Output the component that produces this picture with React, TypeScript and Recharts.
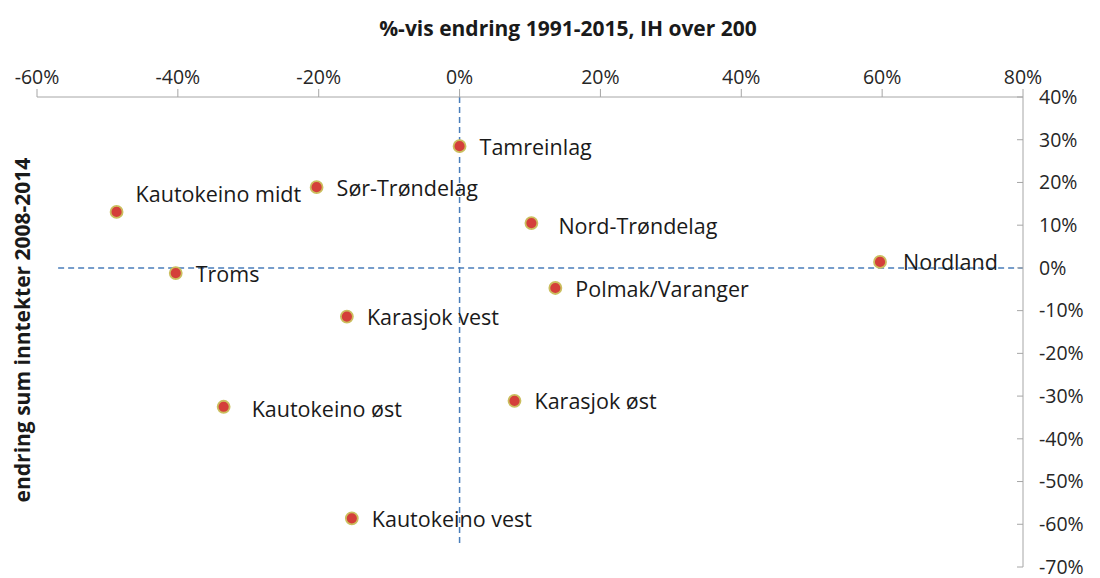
import { ScatterChart, Scatter, XAxis, YAxis, ReferenceLine } from "recharts";

// Reindriftsområder: endring 1991-2015 (IH over 200) mot endring sum inntekter 2008-2014
const areas = [
  "Tamreinlag",
  "Sør-Trøndelag",
  "Kautokeino midt",
  "Nord-Trøndelag",
  "Nordland",
  "Troms",
  "Polmak/Varanger",
  "Karasjok vest",
  "Kautokeino øst",
  "Karasjok øst",
  "Kautokeino vest",
];
const changeIH = [0, -20.3, -48.7, 10.2, 59.7, -40.3, 13.6, -16, -33.5, 7.8, -15.3];
const changeIncome = [28.5, 18.9, 13.1, 10.5, 1.4, -1.2, -4.7, -11.4, -32.5, -31.1, -58.6];

const xTicks = [-60, -40, -20, 0, 20, 40, 60, 80];
const yTicks = [40, 30, 20, 10, 0, -10, -20, -30, -40, -50, -60, -70];

// small label nudges (px) where the original labels sit off-centre
const labelNudge: Record<string, { dx: number; dy: number }> = {
  "Kautokeino midt": { dx: 19, dy: -17 },
  "Nord-Trøndelag": { dx: 27, dy: 3 },
  "Kautokeino øst": { dx: 28, dy: 3 },
  Nordland: { dx: 23, dy: 1 },
};

const data = areas.map((name, i) => ({ name, x: changeIH[i], y: changeIncome[i] }));

const FONT = "'Open Sans', sans-serif";
const AXIS = "#A6A6A6";
const DASH = "#4A7EBB";

const pct = (v: number) => `${v}%`;

const Dot = (props: any) => {
  const { cx, cy, payload } = props;
  const n = labelNudge[payload.name] || { dx: 20, dy: 1 };
  return (
    <g>
      <circle cx={cx} cy={cy} r={6} fill="#D43F3A" stroke="#CBBE5E" strokeWidth={1.8} />
      <text
        x={cx + n.dx}
        y={cy + n.dy}
        dy="0.35em"
        fontFamily={FONT}
        fontSize={21.5}
        fill="#1A1A1A"
      >
        {payload.name}
      </text>
    </g>
  );
};

const RightTick = (props: any) => {
  const { x, y, payload } = props;
  const axisX = x - 16;
  return (
    <g>
      <line x1={axisX - 6} x2={axisX} y1={y} y2={y} stroke={AXIS} />
      <text x={x} y={y} dy="0.35em" fontFamily={FONT} fontSize={19.5} fill="#262626">
        {pct(payload.value)}
      </text>
    </g>
  );
};

export default function App() {
  return (
    <div style={{ position: "relative", width: 1100, height: 578, background: "#fff" }}>
      <style>{`body{margin:0}`}</style>
      <div
        style={{
          position: "absolute",
          left: 568,
          top: 28,
          transform: "translate(-50%, -50%)",
          fontFamily: FONT,
          fontWeight: 700,
          fontSize: 21,
          color: "#1A1A1A",
          whiteSpace: "nowrap",
        }}
      >
        %-vis endring 1991-2015, IH over 200
      </div>
      <div
        style={{
          position: "absolute",
          left: 22,
          top: 330,
          transform: "translate(-50%, -50%) rotate(-90deg)",
          fontFamily: FONT,
          fontWeight: 700,
          fontSize: 21,
          color: "#1A1A1A",
          whiteSpace: "nowrap",
        }}
      >
        endring sum inntekter 2008-2014
      </div>
      <ScatterChart
        width={1100}
        height={578}
        margin={{ top: 57, right: 0, bottom: 11, left: 37 }}
      >
        <XAxis
          type="number"
          dataKey="x"
          orientation="top"
          domain={[-60, 80]}
          ticks={xTicks}
          tickFormatter={pct}
          height={40}
          stroke={AXIS}
          tickSize={8}
          tickMargin={5}
          tick={{ fill: "#262626", fontSize: 19.5, fontFamily: FONT }}
          allowDataOverflow
        />
        <YAxis
          type="number"
          dataKey="y"
          orientation="right"
          domain={[-70, 40]}
          ticks={yTicks}
          width={77}
          stroke={AXIS}
          tickLine={false}
          tickSize={0}
          tickMargin={16}
          tick={<RightTick />}
          allowDataOverflow
        />
        <Scatter data={data} shape={<Dot />} isAnimationActive={false} />
        <ReferenceLine
          segment={[
            { x: -57, y: 0 },
            { x: 80, y: 0 },
          ]}
          stroke={DASH}
          strokeWidth={1.5}
          strokeDasharray="6 4"
        />
        <ReferenceLine
          segment={[
            { x: 0, y: 40 },
            { x: 0, y: -65 },
          ]}
          stroke={DASH}
          strokeWidth={1.5}
          strokeDasharray="6 4"
        />
      </ScatterChart>
    </div>
  );
}
